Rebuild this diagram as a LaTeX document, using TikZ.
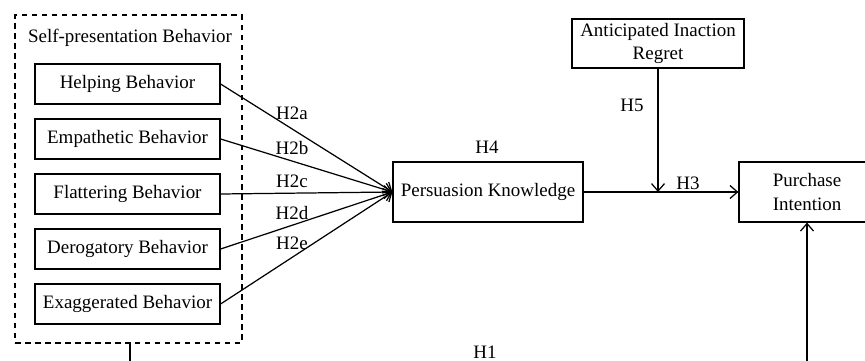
\documentclass[tikz,border=0pt]{standalone}
\usepackage{fontspec}
\setmainfont{Liberation Serif}
\usepackage{tikz}
\usetikzlibrary{positioning,arrows.meta,calc}
\tikzset{
  linkarrow/.style={-{Straight Barb[length=1.5mm, width=2.6mm]}, line width=0.7pt},
  plainline/.style={line width=0.7pt},
  behavbox/.style={draw, line width=0.7pt, minimum width=3.7cm, minimum height=0.8cm, align=center},
  constructbox/.style={draw, line width=0.7pt, minimum height=1.2cm, align=center},
  groupbox/.style={draw, dashed, line width=0.7pt, dash pattern=on 1.1mm off 0.9mm, minimum width=4.54cm, minimum height=6.56cm},
  hyp/.style={inner sep=1pt}
}

\begin{document}
\begin{tikzpicture}[x=0.02cm, y=-0.02cm, every node/.style={font=\fontsize{10.8}{13.5}\selectfont}]
      \useasboundingbox (0,0) rectangle (865,361);
      \clip (0,0) rectangle (865,361);
      % self-presentation group
      \node[groupbox] (group) at (128.5,179) {};
      \node (grouptitle) at (130,38) {Self-presentation Behavior};
      \node[behavbox] (helping) at (127.5,84) {Helping Behavior};
      \node[behavbox] (empathetic) at (127.5,139) {Empathetic Behavior};
      \node[behavbox] (flattering) at (127.5,194) {Flattering Behavior};
      \node[behavbox] (derogatory) at (127.5,249) {Derogatory Behavior};
      \node[behavbox] (exaggerated) at (127.5,304) {Exaggerated Behavior};
      % constructs
      \node[constructbox, minimum width=3.8cm] (persuasion) at (488,192) {Persuasion Knowledge};
      \node[constructbox, minimum width=3.44cm, minimum height=0.98cm, inner sep=1pt] (regret) at (658,43.5) {Anticipated Inaction\\Regret};
      \node[constructbox, minimum width=2.72cm] (purchase) at (807,192) {Purchase\\Intention};
      % paths
      \draw[linkarrow] (helping.east) -- (persuasion.west);
      \draw[linkarrow] (empathetic.east) -- (persuasion.west);
      \draw[linkarrow] (flattering.east) -- (persuasion.west);
      \draw[linkarrow] (derogatory.east) -- (persuasion.west);
      \draw[linkarrow] (exaggerated.east) -- (persuasion.west);
      \draw[linkarrow] (persuasion.east) -- (purchase.west);
      \coordinate (join) at (658,192);
      \draw[linkarrow] (regret.south) -- (join);
      \coordinate (h1corner) at (130,400);
      \coordinate (h1turn) at (807,400);
      \draw[linkarrow] (group.south -| h1corner) -- (h1corner) -- (h1turn) -- (purchase.south);
      % hypothesis labels
      \node[hyp] (h2a) at (292,113) {H2a};
      \node[hyp] (h2b) at (292,148) {H2b};
      \node[hyp] (h2c) at (292,181) {H2c};
      \node[hyp] (h2d) at (292,213) {H2d};
      \node[hyp] (h2e) at (292,243) {H2e};
      \node[hyp] (h4) at (487,147) {H4};
      \node[hyp] (h5) at (632,105) {H5};
      \node[hyp] (h3) at (688,183) {H3};
      \node[hyp] (h1) at (485,352) {H1};
    \end{tikzpicture}
\end{document}
